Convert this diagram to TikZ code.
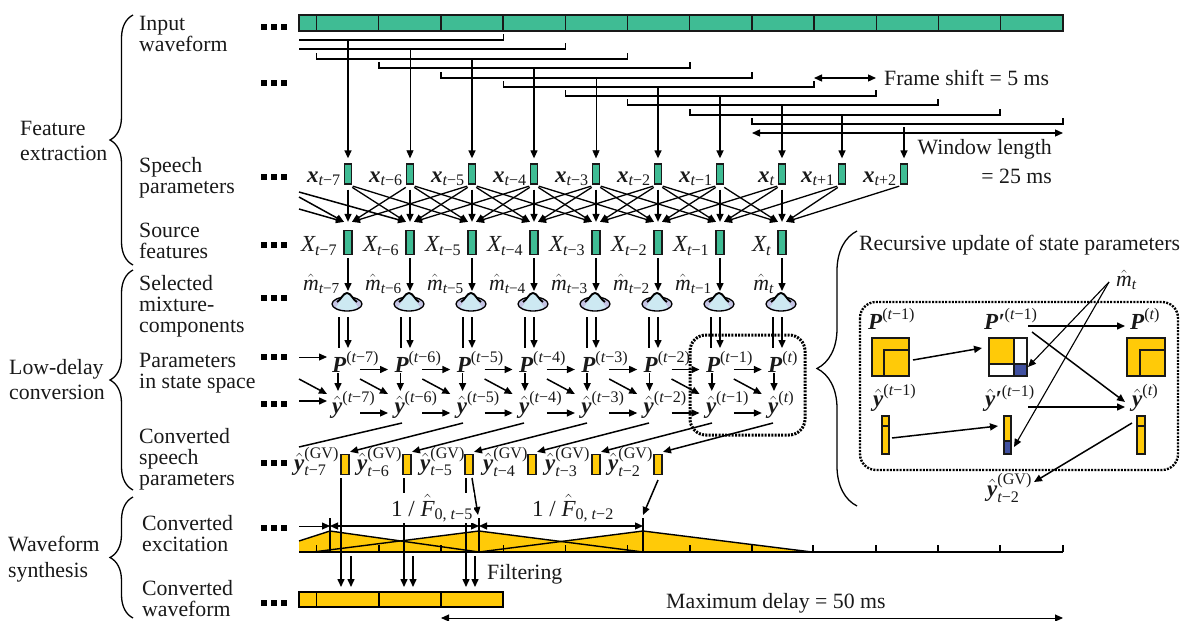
\documentclass[tikz,border=0pt]{standalone}
\usepackage{amsmath}
\usepackage{fontspec}
\setmainfont{Liberation Serif}
\usetikzlibrary{positioning, arrows.meta, shapes.geometric, calc, decorations.pathreplacing}
\definecolor{cWave}{HTML}{3FBC94}
\definecolor{cGold}{HTML}{FFCA08}
\definecolor{cBlue}{HTML}{4050A0}
\definecolor{cBell}{HTML}{CDE9F2}
\definecolor{cBase}{HTML}{C4C4E4}
\newcommand{\tsub}[1]{\text{\itshape t\upshape #1}}
\newcommand{\bit}[1]{\text{\bfseries\itshape #1}}
\tikzset{
  body/.style={font=\fontsize{21.8}{21}\selectfont, inner sep=0pt, text=black!90},
  big/.style={body, font=\fontsize{23}{23}\selectfont},
  lefttext/.style={body, align=left, anchor=north west},
  arr/.style={-{Triangle[length=8pt,width=7pt]}, line width=1.5pt},
  arrthin/.style={arr, line width=0.8pt},
  darr/.style={{Triangle[length=8pt,width=7pt]}-{Triangle[length=8pt,width=7pt]}, line width=1.3pt},
  win/.style={line width=1.5pt},
  frm/.style={draw=black!90, line width=1.3pt, inner sep=0pt},
  spframe/.style={frm, fill=cWave, minimum width=7pt, minimum height=20pt},
  srcframe/.style={frm, fill=cWave, minimum width=8pt, minimum height=24pt},
  gvframe/.style={frm, fill=cGold, minimum width=8pt, minimum height=20pt},
  gmmbase/.style={ellipse, draw=black, line width=1.3pt, fill=cBase, minimum width=30pt, minimum height=14pt, inner sep=0pt},
  dotbox/.style={draw=black, line width=3pt, dash pattern=on 2pt off 1.3pt, rounded corners=16pt},
  dotboxb/.style={dotbox, line width=2.4pt},
  bracepath/.style={decorate, line width=1.3pt},
  dotsq/.style={fill=black, minimum size=6.5pt, inner sep=0pt},
}
\begin{document}
\begin{tikzpicture}[x=1pt, y=-1pt]
  \useasboundingbox (0,0) rectangle (1184,621);
  % braces and row names
  \draw[bracepath, decoration={brace, amplitude=23pt}] (133,265) -- (133,15);
  \draw[bracepath, decoration={brace, amplitude=23pt}] (133,490) -- (133,270);
  \draw[bracepath, decoration={brace, amplitude=23pt}] (133,618) -- (133,497);
  \draw[bracepath, decoration={brace, amplitude=40pt}] (857,506) -- (857,231);
  \node[lefttext] (feat) at (20,121) {Feature\\[4pt]extraction};
  \node[lefttext] (lowd) at (9,359) {Low-delay\\[4pt]conversion};
  \node[lefttext] (wsyn) at (8,536) {Waveform\\[5pt]synthesis};
  \node[lefttext] (rinput) at (139,16) {Input\\waveform};
  \node[lefttext] (rspeech) at (139,157) {Speech\\parameters};
  \node[lefttext] (rsource) at (139,223) {Source\\features};
  \node[lefttext] (rmix) at (139,275) {Selected\\mixture-\\components};
  \node[lefttext] (rstate) at (139,353) {Parameters\\in state space};
  \node[lefttext] (rconv) at (139,428) {Converted\\speech\\parameters};
  \node[lefttext] (rexc) at (142,515) {Converted\\excitation};
  \node[lefttext] (rout) at (142,580) {Converted\\waveform};
  % dots at the left of each row
  \foreach \yy [count=\n] in {27,83,177,245,298,357,404,463,528,603}{
    \foreach \xx/\m in {264/a, 274/b, 284/c}{
      \node[dotsq] (dot\n\m) at (\xx,\yy) {};
    }
  }
  % input waveform
  \draw[fill=cWave, line width=1.5pt, draw=black!90] (299,15) rectangle (1063,31);
  \foreach \i in {0,...,11}{
    \draw[line width=1.3pt, draw=black!90] (316.5+62.2*\i,15) -- (316.5+62.2*\i,31);
  }
  % analysis windows
  \draw[win] (299,40) -- (503.5,40) -- (503.5,34);
  \draw[win] (299,49) -- (565.5,49) -- (565.5,43);
  \foreach \xa/\xb/\yy in {316.5/627.5/59, 379/690/68, 441/752/78, 503.5/814/87,
                           565.5/876/96, 627.5/938/105, 690/1000/115, 752/1063/124}{
    \draw[win] (\xa,\yy-6) -- (\xa,\yy) -- (\xb,\yy) -- (\xb,\yy-6);
  }
  \coordinate (fsa) at (814,78);
  \coordinate (fsb) at (876,78);
  \draw[darr] (fsa) -- (fsb);
  \node[body, anchor=west] (fslabel) at (884,78) {Frame shift = 5 ms};
  \coordinate (wla) at (752,133);
  \coordinate (wlb) at (1063,133);
  \draw[darr] (wla) -- (wlb);
  \node[body, anchor=east] (wllabel) at (1052,149) {Window length};
  \node[body, anchor=east] (wlvalue) at (1052,176) {= 25 ms};
  % speech parameter frames
  \foreach \i/\xx/\yy/\lw/\txt in {1/348/40/1.6/−7, 2/410/49/0.7/−6, 3/472/59/1.6/−5, 4/534/68/1.2/−4,
                                   5/596/78/0.6/−3, 6/658/87/1.3/−2, 7/720/96/1.6/−1, 8/782/105/1.6/,
                                   9/842/115/1.3/+1, 10/904/127/1.3/+2}{
    \node[spframe] (sp\i) at (\xx,174) {};
    \coordinate (win\i) at (\xx,\yy);
    \draw[arr, line width=\lw pt, shorten >=5pt] (win\i) -- (sp\i.north);
    \node[big, anchor=base east] (xl\i) at ($(sp\i.west)+(-3,8)$)
      {$\bit{x}_{\tsub{\txt}}$};
  }
  % source features, mixture components, gold rows
  \foreach \i/\xx/\txt in {1/348/−7, 2/410/−6, 3/472/−5, 4/534/−4, 5/596/−3, 6/658/−2, 7/720/−1, 8/782/}{
    \node[srcframe] (src\i) at (\xx,242.5) {};
    \node[big, anchor=base east] (xs\i) at ($(src\i.west)+(-6,9)$)
      {$\text{\itshape X}_{\tsub{\txt}}$};
    \node[gmmbase] (gmm\i) at (\xx-1,304) {};
    \fill[cBell] (\xx-12,307) .. controls (\xx-8,303) and (\xx-5,293) .. (\xx-1,293)
      .. controls (\xx+3,293) and (\xx+6,303) .. (\xx+10,307)
      .. controls (\xx+4,311) and (\xx-6,311) .. (\xx-12,307) -- cycle;
    \draw[line width=1.9pt] (\xx-11,302) .. controls (\xx-7,300) and (\xx-5,293) .. (\xx-1,293)
      .. controls (\xx+3,293) and (\xx+5,300) .. (\xx+9,302);
    \draw[arr, shorten <=3pt, shorten >=7pt] (src\i.south) -- (\xx,298);
    \node[body, anchor=base east] (ml\i) at (\xx-8,290) {$\hat{\text{\itshape m}}_{\tsub{\txt}}$};
    \coordinate (pinl\i) at (\xx-9,317);
    \coordinate (pinlb\i) at (\xx-9,348);
    \coordinate (pinr\i) at (\xx,317);
    \coordinate (pinrb\i) at (\xx,348);
    \draw[line width=1.3pt] (pinl\i) -- (pinlb\i);
    \draw[arr] (pinr\i) -- (pinrb\i);
  }
  % incoming lines of the source features
  \coordinate (edgea) at (299,192);
  \coordinate (edgeb) at (299,197);
  \coordinate (edgec) at (299,209);
  \draw[arr] (edgea) -- ($(src2.north)+(-4,-8)$);
  \draw[arr] (edgeb) -- ($(src1.north)+(-4,-8)$);
  \draw[arr] (edgec) -- ($(src1.north)+(-4,-8)$);
  \foreach \j in {1,...,10}{
    \foreach \d in {-2,...,2}{
      \pgfmathtruncatemacro{\k}{\j+\d}
      \ifnum\k>0 \ifnum\k<9
        \pgfmathsetmacro{\off}{\d==0 ? 0 : (\d>0 ? -4 : 4)}
        \draw[arr, line width=1.3pt, shorten <=5pt] (sp\j.south) -- ($(src\k.north)+(\off,-8)$);
      \fi\fi
    }
  }
  % state space rows
  \coordinate (pea) at (299,357);
  \coordinate (peb) at (327,357);
  \coordinate (yea) at (299,401);
  \coordinate (yeb) at (327,401);
  \coordinate (yec) at (299,379);
  \coordinate (yed) at (327,394);
  \draw[arrthin] (pea) -- (peb);
  \draw[arr] (yea) -- (yeb);
  \draw[arr] (yec) -- (yed);
  \foreach \i/\xx/\txt in {1/332/−7, 2/394.3/−6, 3/456.6/−5, 4/518.9/−4, 5/581.2/−3, 6/643.5/−2, 7/705.8/−1, 8/768/}{
    \node[big, anchor=base west] (pp\i) at (\xx,372)
      {$\bit{P}^{\text{(\itshape t\upshape \txt)}}$};
    \node[big, anchor=base west] (yy\i) at (\xx,413)
      {$\hat{\bit{y}}^{\text{(\itshape t\upshape \txt)}}$};
    \coordinate (pdown\i) at (\xx+6,373);
    \coordinate (ydown\i) at (\xx+6,391);
    \draw[arr] (pdown\i) -- (ydown\i);
  }
  \foreach \i [count=\n from 2] in {1,...,7}{
    \coordinate (ppa\i) at (360+62.3*\i-62.3,369.5);
    \coordinate (ppb\i) at (388+62.3*\i-62.3,369.5);
    \coordinate (pya\i) at (360+62.3*\i-62.3,379);
    \coordinate (pyb\i) at (388+62.3*\i-62.3,394);
    \coordinate (yya\i) at (360+62.3*\i-62.3,413);
    \coordinate (yyb\i) at (388+62.3*\i-62.3,413);
    \draw[arr] (ppa\i) -- (ppb\i);
    \draw[arr] (pya\i) -- (pyb\i);
    \draw[arr, line width=1.1pt] (yya\i) -- (yyb\i);
  }
  % gold frames of the converted parameters
  \foreach \i/\xx/\lx/\txt in {1/345/294/−7, 2/407/357/−6, 3/469/420/−5, 4/532/483/−4, 5/596/545/−3, 6/658/608/−2}{
    \node[gvframe] (gv\i) at (\xx,464.5) {};
    \node[big, anchor=base west] (gl\i) at (\lx,470)
      {$\hat{\bit{y}}^{\text{(GV)}}_{\tsub{\txt}}$};
  }
  \coordinate (yout0) at (402,423);
  \coordinate (gvedge) at (299,447);
  \draw[line width=1.5pt] (yout0) -- (gvedge);
  \foreach \i/\xx/\k in {1/463/1, 2/524/2, 3/587/3, 4/649/4, 5/712/5, 6/773/6}{
    \coordinate (yout\i) at (\xx,423);
    \draw[arr] (yout\i) -- ($(gv\k.north)+(5,-2)$);
  }
  % boxes with dots
  \draw[dotbox] (690,335) rectangle (805,435);
  \draw[dotboxb] (860,302) rectangle (1178,470);
  % converted excitation
  \fill[cGold] (299,552) -- (299,541) -- (330,531) -- (404,541) -- (479,531) -- (561,541)
    -- (643,531) -- (812,552) -- cycle;
  \draw[line width=1.4pt] (299,541) -- (330,531) -- (479,552);
  \draw[line width=1.4pt] (313,552) -- (479,531) -- (643,552);
  \draw[line width=1.4pt] (479,552) -- (643,531) -- (812,552);
  \draw[line width=1.3pt] (299,552) -- (1063,552);
  \foreach \xx in {316.5,379,441,503.5,565.5,627.5,690,752,813,876,938,1000,1063}{
    \draw[line width=1.2pt] (\xx,545) -- (\xx,552);
  }
  \foreach \xx in {330,479,643}{
    \draw[line width=1.5pt] (\xx,518) -- (\xx,552);
  }
  \coordinate (ea) at (299,526);
  \coordinate (eb) at (330,526);
  \coordinate (ec) at (479,526);
  \coordinate (ed) at (643,526);
  \draw[arrthin] (ea) -- (eb);
  \draw[darr] (eb) -- (ec);
  \draw[darr] (ec) -- (ed);
  % converted waveform and filtering arrows
  \draw[fill=cGold, line width=1.4pt] (299,592) rectangle (503,607);
  \foreach \xx in {316.5,379,441}{
    \draw[line width=1.3pt] (\xx,592) -- (\xx,607);
  }
  \foreach \xx/\m in {341/a,404/b,466/c}{
    \coordinate (fl\m) at (\xx,478);
    \coordinate (flb\m) at (\xx,587);
    \draw[arr] (fl\m) -- (flb\m);
  }
  \foreach \xx/\m in {351/a,413/b,475/c}{
    \coordinate (fs\m) at (\xx,556);
    \coordinate (fsb\m) at (\xx,587);
    \draw[arr] (fs\m) -- (fsb\m);
  }
  \coordinate (gva) at (472,478);
  \coordinate (gvb) at (478,515);
  \coordinate (gvc) at (658,480);
  \coordinate (gvd) at (643,515);
  \draw[arr] (gva) -- (gvb);
  \draw[arr] (gvc) -- (gvd);
  \node[big, fill=white, inner sep=1pt, anchor=base west] (ftwo) at (390,516)
    {$\text{1 / }\hat{\text{\itshape F}}_{\text{0, \itshape t\upshape −5}}$};
  \node[big, anchor=base west] (fthree) at (532,516)
    {$\text{1 / }\hat{\text{\itshape F}}_{\text{0, \itshape t\upshape −2}}$};
  \node[body, anchor=west] (filt) at (487,574) {Filtering};
  \node[body, anchor=west] (maxd) at (666,603) {Maximum delay = 50 ms};
  \coordinate (mda) at (441,618);
  \coordinate (mdb) at (1063,618);
  \draw[darr, line width=0.9pt] (mda) -- (mdb);
  % recursive update
  \node[body, anchor=west] (rtitle) at (859,245) {Recursive update of state parameters};
  \node[body, anchor=base west] (mhat) at (1116,286) {$\hat{\text{\itshape m}}_{\tsub{}}$};
  \node[big, anchor=base west] (pa) at (868,329) {$\bit{P}^{\text{(\itshape t\upshape −1)}}$};
  \node[big, anchor=base west] (pb) at (984,329) {$\bit{P′}^{\text{(\itshape t\upshape −1)}}$};
  \node[big, anchor=base west] (pc) at (1130,329) {$\bit{P}^{\text{(\itshape t\upshape )}}$};
  \node[big, anchor=base west] (ya) at (873,406) {$\hat{\bit{y}}^{\text{(\itshape t\upshape −1)}}$};
  \node[big, anchor=base west] (yb) at (985,406) {$\hat{\bit{y}}\bit{′}^{\text{(\itshape t\upshape −1)}}$};
  \node[big, anchor=base west] (yc) at (1132,406) {$\hat{\bit{y}}^{\text{(\itshape t\upshape )}}$};
  \node[big, anchor=base west] (gvlabel) at (987,496) {$\hat{\bit{y}}^{\text{(GV)}}_{\tsub{−2}}$};
  \draw[frm, fill=cGold] (872,338) rectangle (909,376);
  \draw[frm] (884,350) rectangle (909,376);
  \draw[frm, fill=cGold] (1127,338) rectangle (1165,376);
  \draw[frm] (1140,350) rectangle (1165,376);
  \draw[frm, fill=white] (989,338) rectangle (1027,376);
  \draw[frm, fill=cGold] (989,338) rectangle (1014,364);
  \draw[frm, fill=cBlue] (1014,364) rectangle (1027,376);
  \draw[frm, fill=cGold] (882,416) rectangle (889,454);
  \draw[frm] (882,426) -- (889,426);
  \draw[frm, fill=cGold] (1004,416) rectangle (1011,454);
  \draw[frm, fill=cBlue] (1004,441) rectangle (1011,454);
  \draw[frm, fill=cGold] (1137,416) rectangle (1145,454);
  \draw[frm] (1137,426) -- (1145,426);
  \coordinate (ma) at (1109,282);
  \coordinate (mb) at (1028,367);
  \coordinate (mc) at (1014,447);
  \draw[arr, line width=1.1pt] (ma) -- (mb);
  \draw[arr, line width=1.1pt] (ma) -- (mc);
  \coordinate (qa) at (913,360);
  \coordinate (qb) at (982,348);
  \coordinate (qc) at (1028,326);
  \coordinate (qd) at (1125,326);
  \coordinate (qe) at (1032,332);
  \coordinate (qf) at (1125,402);
  \coordinate (qg) at (1028,407);
  \coordinate (qh) at (1125,407);
  \coordinate (qi) at (892,438);
  \coordinate (qj) at (998,426);
  \coordinate (qk) at (1132,423);
  \coordinate (ql) at (1034,482);
  \foreach \p/\q in {qa/qb, qc/qd, qe/qf, qg/qh, qi/qj, qk/ql}{
    \draw[arr] (\p) -- (\q);
  }
\end{tikzpicture}
\end{document}
